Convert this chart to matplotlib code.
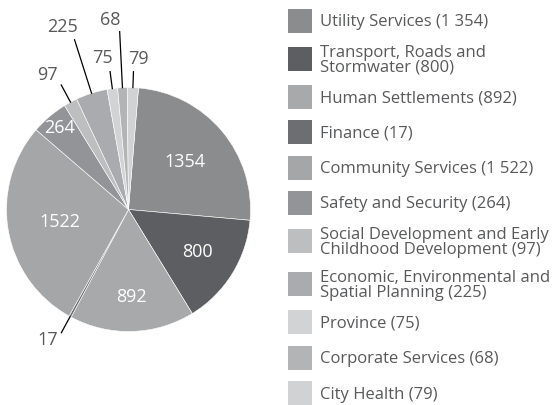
import numpy as np
import matplotlib.pyplot as plt
from matplotlib.patches import Rectangle

plt.rcParams['font.family'] = ['Open Sans', 'DejaVu Sans']

# data
labels = ['Utility Services (1 354)', 'Transport, Roads and\nStormwater (800)',
          'Human Settlements (892)', 'Finance (17)', 'Community Services (1 522)',
          'Safety and Security (264)', 'Social Development and Early\nChildhood Development (97)',
          'Economic, Environmental and\nSpatial Planning (225)', 'Province (75)',
          'Corporate Services (68)', 'City Health (79)']
values = [1354, 800, 892, 17, 1522, 264, 97, 225, 75, 68, 79]
colors = ['#8b8c8e', '#5d5e61', '#a7a9ab', '#6d6e71', '#a5a6a8', '#939497',
          '#bdbec0', '#a9abae', '#d2d3d5', '#b3b4b6', '#d1d2d4']

# label placement: inside radius fraction, or outside
# (text radius, leader end radius, text angle offset in degrees)
inside_r = {0: 0.6, 1: 0.66, 2: 0.72, 4: 0.57, 5: 0.875}
outside_r = {3: (1.26, 1.15, -3.1), 6: (1.29, 1.16, 2.7), 7: (1.59, 1.46, 2.3),
             8: (1.26, 1.14, 2.2), 9: (1.56, 1.46, 2.7), 10: (1.24, 1.13, -1.6)}
txt_gray = '#58595b'

fig = plt.figure(figsize=(5.59, 4.05), dpi=100)
cx, cy, R = 128.5, 405 - 209.5, 122
ax = fig.add_axes([(cx - R) / 559, (cy - R) / 405, 2 * R / 559, 2 * R / 405])

wedges, _ = ax.pie(values, colors=colors, startangle=85.3, counterclock=False,
                   radius=1.0, wedgeprops=dict(edgecolor='white', linewidth=0.4))
ax.set_xlim(-1, 1)
ax.set_ylim(-1, 1)

for i, w in enumerate(wedges):
    mid = (w.theta1 + w.theta2) / 2
    ang = np.deg2rad(mid)
    c, s = np.cos(ang), np.sin(ang)
    if i in inside_r:
        r = inside_r[i]
        ax.text(r * c, r * s, str(values[i]), color='white', fontsize=13,
                ha='center', va='center')
    else:
        rt, rl, off = outside_r[i]
        ax.plot([1.0 * c, rl * c], [1.0 * s, rl * s], color='black', lw=0.9,
                clip_on=False)
        ta = np.deg2rad(mid + off)
        ax.text(rt * np.cos(ta), rt * np.sin(ta), str(values[i]), color=txt_gray,
                fontsize=13, ha='center', va='center')

# legend, laid out in pixel coordinates
lax = fig.add_axes([0, 0, 1, 1])
lax.set_xlim(0, 559)
lax.set_ylim(405, 0)
lax.axis('off')
extra = [lab.count('\n') for lab in labels]
y = 20.5
for i, lab in enumerate(labels):
    lax.add_patch(Rectangle((288, y - 12), 24, 24, facecolor=colors[i], edgecolor='none'))
    lax.text(320, y + 1.5, lab, fontsize=12, color=txt_gray, ha='left', va='center',
             linespacing=0.95)
    if i + 1 < len(labels):
        y += 35.3 + 3.0 * (extra[i] + extra[i + 1]) + 1.5 * extra[i] * extra[i + 1]

fig.savefig('out.png', dpi=100)
